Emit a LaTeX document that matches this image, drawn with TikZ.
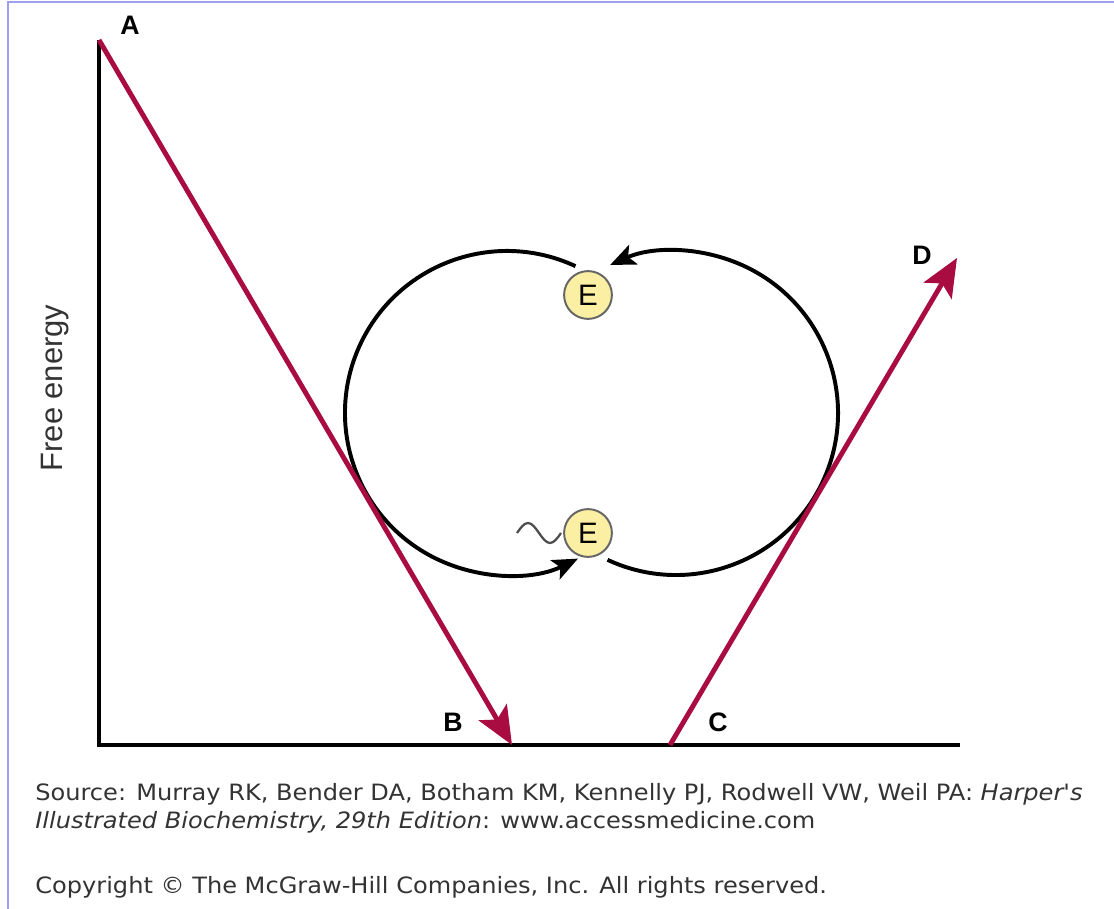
\documentclass[tikz,border=0pt]{standalone}
\usepackage{fontspec}
\setmainfont{Liberation Sans}
\newfontfamily\srcfont{DejaVu Sans}
\usepackage{xcolor}
\usepackage{tikz}
\usetikzlibrary{arrows.meta}
\definecolor{crimson}{HTML}{A80C40}
\definecolor{framebl}{HTML}{A0A0F0}
\definecolor{enzfill}{HTML}{FBEFA3}
\definecolor{textgray}{HTML}{333333}
\tikzset{
  letter/.style={font=\fontsize{19}{19}\selectfont\bfseries},
  redpath/.style={crimson, line width=3.5pt, -{Stealth[length=27pt, width=23pt, inset=6pt]}},
  cycarc/.style={black, line width=2.8pt, -{Stealth[length=18pt, width=15pt, inset=4pt]}},
  enz/.style={circle, draw=black!60, fill=enzfill, line width=1.4pt, minimum size=34pt,
              inner sep=0pt, text=black, font=\fontsize{21}{21}\selectfont},
  srcline/.style={anchor=base west, inner sep=0pt, text=textgray, xscale=1.07,
                  font=\srcfont\fontsize{16}{16}\selectfont}
}

\begin{document}
\begin{tikzpicture}[x=0.025cm, y=0.025cm]
\useasboundingbox (0,0) rectangle (1114,909);
\draw[framebl, line width=1.5pt] (8,0) -- (8,907) -- (1114,907);

\coordinate (top) at (99,869);
\coordinate (orig) at (99,164);
\coordinate (xend) at (960,164);
\coordinate (Bpt) at (512,164);
\coordinate (Cpt) at (670,164);
\coordinate (Dpt) at (957,651);
\coordinate (lc) at (507,496);
\coordinate (rc) at (676,496);

\draw[line width=2.6pt] (top) -- (orig) -- (xend);
\node[text=textgray, rotate=90, font=\fontsize{22}{22}\selectfont] (ylab) at (55,521) {Free energy};

\node[letter] (labA) at (130,884) {A};
\node[letter] (labB) at (453,187) {B};
\node[letter] (labC) at (718,187) {C};
\node[letter] (labD) at (922,654) {D};

\draw[cycarc] ([shift={(65:162)}]lc) arc[start angle=65, end angle=296, radius=162];
\draw[cycarc] ([shift={(-115:162)}]rc) arc[start angle=-115, end angle=114, radius=162];

\node[enz] (Etop) at (588,614) {E};
\node[enz] (Ebot) at (588,376) {E};
\draw[black!70, line width=1.6pt] (517,376) sin (528,386) cos (539,376) sin (550,366) cos (561,376);

\draw[redpath] (top) -- (Bpt);
\draw[redpath] (Cpt) -- (Dpt);

\node[srcline] (src1) at (35,108) {Source: Murray RK, Bender DA, Botham KM, Kennelly PJ, Rodwell VW, Weil PA: \textit{Harper's}};
\node[srcline] (src2) at (35,80) {\textit{Illustrated Biochemistry, 29th Edition}: www.accessmedicine.com};
\node[srcline] (copy) at (35,15) {Copyright © The McGraw-Hill Companies, Inc. All rights reserved.};
\end{tikzpicture}
\end{document}
